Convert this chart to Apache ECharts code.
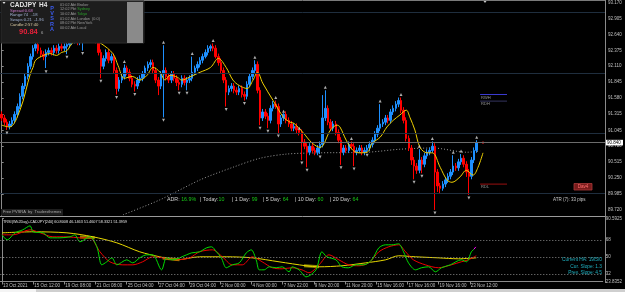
<!DOCTYPE html>
<html><head><meta charset="utf-8">
<script src="https://cdn.jsdelivr.net/npm/echarts@6/dist/echarts.min.js"></script>
<style>html,body{margin:0;padding:0;background:#000;}#c{width:625px;height:292px;}</style>
</head><body><div id="c"></div>
<script>
// ---------- DATA ----------
const xLabels = ['13 Oct 2021','15 Oct 12:00','19 Oct 08:00','21 Oct 08:00','25 Oct 04:00','27 Oct 04:00','29 Oct 04:00','2 Nov 00:00','4 Nov 00:00','7 Nov 22:00','9 Nov 20:00','11 Nov 20:00','15 Nov 16:00','17 Nov 16:00','19 Nov 16:00','23 Nov 12:00'];
const xLabelBars = [0,12,24,36,48,60,72,84,96,108,120,132,144,156,168,180];
const priceTicks = [93.170,92.905,92.640,92.375,92.110,91.845,91.580,91.315,91.045,90.780,90.515,90.250,89.985,89.720];
const oscTicks = [90.5925,68,50,32,23.8352];
const oscTickLabels = ['90.5925','68','50','32','23.8352'];

const firstOpen = 91.31;
const closes = [91.25,91.18,91.11,91.15,91.21,91.31,91.44,91.61,91.78,91.94,
92.11,92.27,92.41,92.47,92.37,92.31,92.27,92.34,92.37,92.34,
92.41,92.37,92.44,92.41,92.44,92.47,92.51,92.54,92.57,92.51,
92.54,92.61,92.67,92.71,92.74,92.67,92.54,92.34,92.11,92.24,
92.34,92.21,92.27,92.04,91.74,91.88,91.94,92.08,92.01,91.91,
91.81,91.78,91.88,91.91,91.98,92.08,92.14,92.17,92.04,91.88,
91.78,91.98,92.04,91.94,91.88,91.98,91.91,91.84,91.81,91.91,
91.84,91.88,91.91,92.01,92.08,92.14,92.21,92.27,92.34,92.41,
92.44,92.41,92.27,92.17,92.04,91.88,91.68,91.74,91.78,91.71,
91.68,91.74,91.64,91.61,91.81,91.94,92.04,92.14,91.71,91.25,
91.35,91.28,91.21,91.41,91.48,91.44,91.15,91.25,91.31,91.21,
91.15,91.08,91.11,91.05,91.01,90.85,90.78,90.68,90.78,90.71,
90.68,90.75,90.81,91.25,91.41,91.18,91.08,91.15,91.01,90.88,
90.68,90.75,90.71,90.81,90.78,90.68,90.71,90.75,90.68,90.71,
90.75,90.81,90.88,90.98,91.08,91.15,91.18,91.25,91.21,91.35,
91.41,91.48,91.54,91.38,91.21,90.91,90.75,90.55,90.45,90.38,
90.55,90.48,90.62,90.68,90.71,90.78,90.35,90.12,90.08,90.15,
90.22,90.28,90.35,90.45,90.42,90.52,90.58,90.48,90.35,90.28,
90.55,90.71,90.84];
const lows = [91.20,91.13,91.05,91.06,91.10,91.16,91.26,91.40,91.56,91.73,
91.89,92.06,92.22,92.36,92.32,92.26,92.21,92.08,92.29,92.29,
92.29,92.32,92.32,92.36,92.36,92.31,92.42,92.46,92.49,92.46,
92.46,92.37,92.56,92.62,92.66,92.62,92.49,92.29,91.91,92.06,
92.19,92.16,92.16,91.99,91.64,91.69,91.83,91.89,91.96,91.86,
91.76,91.69,91.73,91.83,91.86,91.93,92.03,92.09,91.99,91.83,
91.63,91.73,91.26,91.89,91.83,91.83,91.86,91.78,91.71,91.76,
91.79,91.71,91.83,91.86,91.96,92.03,92.09,92.16,92.24,92.29,
92.36,92.36,92.24,92.12,91.99,91.83,91.44,91.63,91.69,91.66,
91.63,91.63,91.59,91.54,91.56,91.76,91.89,91.99,91.66,91.13,
91.20,91.23,91.08,91.16,91.36,91.40,91.00,91.10,91.20,91.16,
91.10,91.03,91.03,91.00,90.96,90.55,90.73,90.43,90.63,90.67,
90.63,90.63,90.65,90.76,91.20,91.13,91.03,91.03,90.96,90.83,
90.47,90.63,90.67,90.67,90.73,90.45,90.63,90.67,90.63,90.63,
90.68,90.70,90.76,90.83,90.93,91.03,91.10,91.13,91.16,91.16,
91.30,91.36,91.43,91.33,91.16,90.86,90.70,90.47,90.23,90.32,
90.33,90.33,90.43,90.57,90.63,90.67,89.72,90.02,90.00,90.04,
90.10,90.17,90.23,90.30,90.37,90.37,90.47,90.43,90.27,89.97,
90.23,90.50,90.67];
const highs = [91.36,91.30,91.23,91.20,91.26,91.36,91.49,91.66,91.83,91.99,
92.16,92.32,92.46,92.62,92.52,92.42,92.36,92.39,92.42,92.42,
92.46,92.46,92.49,92.49,92.49,92.52,92.56,92.59,92.62,92.62,
92.59,92.66,92.72,92.76,92.80,92.79,92.72,92.59,92.39,92.29,
92.39,92.39,92.32,92.32,92.09,91.93,91.99,92.14,92.12,92.06,
91.96,91.86,91.93,91.96,92.03,92.12,92.19,92.22,92.22,92.09,
91.93,92.03,92.46,92.09,91.99,92.03,92.03,91.96,91.89,91.96,
91.96,91.93,91.96,92.27,92.12,92.19,92.26,92.32,92.39,92.46,
92.47,92.49,92.46,92.32,92.24,92.09,91.93,91.79,91.83,91.83,
91.76,91.79,91.79,91.69,91.86,91.99,92.09,92.21,92.19,91.76,
91.40,91.40,91.33,91.46,91.53,91.54,91.49,91.30,91.33,91.36,
91.26,91.20,91.16,91.16,91.05,91.06,90.90,90.83,90.83,90.83,
90.76,90.80,90.86,91.63,91.71,91.46,91.23,91.20,91.20,91.06,
90.93,90.80,90.80,90.86,90.86,90.83,90.76,90.80,90.80,90.76,
90.80,90.86,90.93,91.03,91.13,91.48,91.23,91.30,91.30,91.40,
91.46,91.53,91.59,91.59,91.43,91.26,90.96,90.80,90.60,90.50,
90.73,90.60,90.67,90.73,90.76,90.86,90.83,90.40,90.17,90.20,
90.27,90.33,90.40,90.63,90.50,90.57,90.65,90.63,90.53,90.40,
90.60,90.76,90.88];

// yellow moving average (bar index, price)
const maPoints = [[0,91.13],[3,91.10],[7,91.38],[11,91.99],[12,92.09],[13,92.21],[16,92.29],[18.5,92.32],[21,92.29],[23,92.34],[25,92.37],[27,92.49],[30,92.54],[34,92.57],[38,92.49],[42.6,92.32],[44.6,92.12],[47,91.91],[50,91.94],[53,91.88],[55.7,91.96],[58,92.09],[60.7,92.01],[62.6,91.88],[64.5,91.96],[67.2,91.93],[69,91.88],[72,91.93],[76,92.01],[80,92.09],[83,92.24],[86,92.09],[88.6,91.88],[91,91.79],[94,91.74],[96.3,91.88],[98,92.01],[100,91.83],[104,91.54],[108,91.26],[110.5,91.18],[112,91.16],[115.4,91.01],[119,90.83],[122,90.76],[126,91.05],[128.5,91.13],[129.6,91.10],[132,90.88],[134.6,90.71],[137,90.67],[140,90.68],[142,90.83],[145,90.93],[147.6,91.10],[150,91.21],[152.6,91.30],[155,91.38],[156.4,91.26],[158.3,91.05],[160.3,90.76],[163,90.67],[165,90.67],[168,90.43],[170.6,90.22],[172.5,90.18],[175.6,90.27],[178,90.38],[180.6,90.30],[182.5,90.43],[184.4,90.67]];
// long moving average (grey dotted)
const longMaPoints = [[46.5,89.64],[60.7,89.89],[76,90.22],[88.6,90.43],[99,90.58],[109.3,90.65],[122,90.67],[140,90.68],[152.6,90.73],[165.2,90.75],[178.3,90.68],[183.3,90.70]];
// fractal markers
const fractalUp = [[47,92.19],[62,92.51],[73,92.32],[81,92.54],[97,92.26],[105,91.59],[108,91.36],[114,91.08],[124,91.76],[134,90.91],[145,91.53],[153,91.64],[160,90.78],[165,90.91],[173,90.68],[176,90.70],[182,90.93]];
const fractalDown = [[2,91.00],[17,92.02],[25,92.26],[31,92.32],[38,91.86],[44,91.59],[51,91.64],[62,91.21],[68,91.66],[71,91.66],[86,91.39],[93,91.49],[99,91.08],[102,91.03],[106,90.95],[115,90.50],[117,90.38],[122,90.60],[130,90.42],[135,90.40],[140,90.63],[158,90.18],[161,90.28],[166,89.67],[179,89.92]];
const roundLevels = [93, 92, 91, 90];
const currentPrice = 90.84;
const rwh = 91.64, rdh = 91.53, rdl = 90.15;
const levelSpan = [183.3, 193.6];

// oscillator panel (TRSI)
const oscGreen = [[0,73.3],[2,68.0],[5,75.4],[8,78.6],[10.8,82.8],[12,76.5],[15.8,75.4],[18.5,70.1],[22.3,70.1],[26.2,71.2],[28,73.3],[30,65.9],[33.8,71.2],[36.5,60.6],[38.4,41.5],[40.3,44.7],[42.3,48.9],[44.2,41.5],[48,46.8],[50.3,43.6],[53,48.9],[55.7,52.1],[58,52.1],[61.4,36.2],[63.3,48.9],[65.6,46.8],[71,52.1],[73,54.2],[76,55.3],[78.7,59.5],[80.6,60.6],[82.5,55.3],[84.4,48.9],[86.3,38.4],[88.6,41.5],[91.3,43.6],[94,54.2],[95.9,57.4],[97.8,46.8],[99,36.2],[100.9,36.2],[102.8,39.4],[105.5,38.4],[107.8,39.4],[110.5,34.1],[111.6,39.4],[114.3,36.2],[117,28.8],[120.8,36.2],[123.1,55.3],[125,50],[128.5,46.8],[130.8,39.4],[133.4,38.4],[136.1,41.5],[139.2,41.5],[142.3,46.8],[145,59.5],[147.6,62.7],[150,62.7],[152.6,63.8],[154.5,55.3],[156.4,43.6],[159.1,36.2],[161.4,38.4],[164.1,39.4],[166.8,34.1],[169.1,38.4],[172.5,41.5],[176.7,46.8],[178.7,44.7],[180.6,55.3],[181.6,58.0]];
const oscMagenta = [[181.6,58.0],[182.3,60.5]];
const oscRed = [[0,73.3],[4.3,73.3],[10.8,78.6],[14.7,75.4],[19.6,71.2],[25,71.2],[30,70.1],[33.8,70.1],[37.7,55.3],[41.5,44.7],[46.5,41.5],[50.3,41.5],[54.1,44.7],[58,50],[61.8,48.9],[67.2,46.8],[72.2,48.9],[76,55.3],[81,57.4],[84.8,50],[88.6,41.5],[92.5,41.5],[96.3,50],[100.1,44.7],[104,38.4],[107.8,37.3],[111.6,38.4],[115.4,36.2],[118.1,33.1],[122,41.5],[125.8,52.1],[129.6,46.8],[133.4,41.5],[137.3,40.5],[141.1,43.6],[145,55.3],[148.8,60.6],[152.6,62.7],[155.3,55.3],[158.3,46.8],[162.9,41.5],[167.9,38.4],[172.9,41.5],[176.7,44.7],[179.4,46.8],[182.5,51.1]];
const oscYellow = [[0,75.4],[12,76.5],[25,75.4],[35,71.2],[44.2,64.8],[53,55.3],[60.7,50],[67.2,46.8],[76,50],[86.3,50],[96.3,48.9],[106.6,44.7],[117,40.5],[122,39.4],[130.8,40.5],[140,43.6],[147.6,46.8],[152.6,51.1],[159.1,50],[167.9,48.9],[175.6,47.9],[182.5,48.9]];
const oscOlive = [[30,71.0],[35.7,70.2],null,[61.8,48.6],[68.3,47.0],null,[116.2,40.6],[122,39.4]];
const oscLevels = [68, 50, 32];

// ---------- CHART ----------
const FONT = 'Liberation Sans, Arial, sans-serif';
const xMin = -0.65, xMax = 231.15;
const chart = echarts.init(document.getElementById('c'), null, {renderer: 'canvas'});
const candleData = closes.map((c, i) => [i, i === 0 ? firstOpen : closes[i - 1], c, lows[i], highs[i]]);
const greyTxt = '#c0c0c0';

const option = {
  backgroundColor: '#000000',
  animation: false,
  grid: [
    {left: 0, right: 20, top: 0, height: 216},
    {left: 0, right: 20, top: 218.5, height: 63}
  ],
  xAxis: [
    {type: 'value', gridIndex: 0, min: xMin, max: xMax, show: false},
    {type: 'value', gridIndex: 1, min: xMin, max: xMax,
      axisLine: {show: true, lineStyle: {color: '#8a8a8a', width: 1}},
      axisTick: {show: true, length: 3, lineStyle: {color: '#8a8a8a'}, customValues: xLabelBars},
      axisLabel: {customValues: xLabelBars, formatter: v => xLabels[xLabelBars.indexOf(v)] || '',
        color: greyTxt, fontSize: 4.5, fontFamily: FONT, align: 'left', margin: 2, padding: [0, 0, 0, 1]},
      splitLine: {show: false}}
  ],
  yAxis: [
    {type: 'value', gridIndex: 0, position: 'right', min: 89.6196, max: 93.2032,
      axisLine: {show: true, lineStyle: {color: '#8a8a8a'}},
      axisTick: {show: true, length: 2, lineStyle: {color: '#8a8a8a'}, customValues: priceTicks},
      axisLabel: {customValues: priceTicks, formatter: v => v.toFixed(3), color: greyTxt, fontSize: 4.5, fontFamily: FONT, margin: 3},
      splitLine: {show: false}},
    {type: 'value', gridIndex: 1, position: 'right', min: 23.8352, max: 90.5925,
      axisLine: {show: true, lineStyle: {color: '#8a8a8a'}},
      axisTick: {show: true, length: 2, lineStyle: {color: '#8a8a8a'}, customValues: oscTicks},
      axisLabel: {customValues: oscTicks, formatter: v => oscTickLabels[oscTicks.indexOf(v)] || '', color: greyTxt, fontSize: 4.5, fontFamily: FONT, margin: 3},
      splitLine: {show: false}}
  ],
  series: [
    {type: 'line', xAxisIndex: 0, yAxisIndex: 0, data: [], z: 1, silent: true,
      markLine: {silent: true, symbol: 'none', label: {show: false}, animation: false,
        data: roundLevels.map(v => ({yAxis: v, lineStyle: {color: '#1f2e3e', width: 1, type: 'solid'}}))
          .concat([{yAxis: currentPrice, lineStyle: {color: '#6c6c6c', width: 1, type: 'solid'}}])}},
    {type: 'line', xAxisIndex: 0, yAxisIndex: 0, data: longMaPoints, smooth: 0.3, showSymbol: false, z: 2,
      lineStyle: {color: '#9a9a9a', width: 1, type: [1, 2]}},
    {type: 'candlestick', xAxisIndex: 0, yAxisIndex: 0, data: candleData, barWidth: 2, z: 3,
      itemStyle: {color: '#1e90ff', color0: '#ff0000', borderColor: '#1e90ff', borderColor0: '#ff0000', borderWidth: 1}},
    {type: 'line', xAxisIndex: 0, yAxisIndex: 0, data: maPoints, smooth: 0.35, showSymbol: false, z: 4,
      lineStyle: {color: '#f0d000', width: 1}},
    {type: 'scatter', xAxisIndex: 0, yAxisIndex: 0, data: fractalUp, symbol: 'triangle', symbolSize: [3, 3], z: 5,
      itemStyle: {color: '#d8d8d8'}},
    {type: 'scatter', xAxisIndex: 0, yAxisIndex: 0, data: fractalDown, symbol: 'triangle', symbolSize: [3, 3], symbolRotate: 180, z: 5,
      itemStyle: {color: '#d8d8d8'}},
    {type: 'line', xAxisIndex: 0, yAxisIndex: 0, data: levelSpan.map(x => [x, rwh]), showSymbol: false, lineStyle: {color: '#3a3ad0', width: 1}},
    {type: 'line', xAxisIndex: 0, yAxisIndex: 0, data: levelSpan.map(x => [x, rdh]), showSymbol: false, lineStyle: {color: '#34345e', width: 1}},
    {type: 'line', xAxisIndex: 0, yAxisIndex: 0, data: levelSpan.map(x => [x, rdl]), showSymbol: false, lineStyle: {color: '#9a1010', width: 1}},
    {type: 'scatter', xAxisIndex: 0, yAxisIndex: 0, data: [[184.4, currentPrice]], symbol: 'rect', symbolSize: 2, itemStyle: {color: '#ff2020'}},
    // oscillator
    {type: 'line', xAxisIndex: 1, yAxisIndex: 1, data: [], silent: true,
      markLine: {silent: true, symbol: 'none', label: {show: false}, animation: false,
        data: oscLevels.map(v => ({yAxis: v, lineStyle: {color: '#8a8a8a', width: 1, type: [1, 2]}}))}},
    {type: 'line', xAxisIndex: 1, yAxisIndex: 1, data: oscOlive, showSymbol: false, connectNulls: false,
      lineStyle: {color: '#8a8400', width: 3}},
    {type: 'line', xAxisIndex: 1, yAxisIndex: 1, data: oscYellow, smooth: 0.3, showSymbol: false,
      lineStyle: {color: '#e8d800', width: 1}},
    {type: 'line', xAxisIndex: 1, yAxisIndex: 1, data: oscRed, smooth: 0.3, showSymbol: false,
      lineStyle: {color: '#ee0000', width: 1}},
    {type: 'line', xAxisIndex: 1, yAxisIndex: 1, data: oscGreen, smooth: 0.3, showSymbol: false,
      lineStyle: {color: '#00dd00', width: 1}},
    {type: 'line', xAxisIndex: 1, yAxisIndex: 1, data: oscMagenta, showSymbol: false,
      lineStyle: {color: '#ff00ff', width: 1}}
  ]
};
chart.setOption(option);

// ---------- overlays (panels and labels) ----------
function txt(x, y, text, size, fill, opts) {
  opts = opts || {};
  return {type: 'text', x: x, y: y, z: 100, silent: true,
    style: {text: text, fill: fill, font: (opts.bold ? 'bold ' : '') + size + 'px ' + FONT,
      textAlign: opts.align || 'left', textVerticalAlign: 'middle'}};
}
const pxCur = chart.convertToPixel({gridIndex: 0}, [0, currentPrice])[1];
const pxRWH = chart.convertToPixel({gridIndex: 0}, [levelSpan[0], rwh]);
const pxRDH = chart.convertToPixel({gridIndex: 0}, [levelSpan[0], rdh]);
const pxRDL = chart.convertToPixel({gridIndex: 0}, [levelSpan[0], rdl]);

const g = [];
// frame lines
g.push({type: 'line', z: 90, shape: {x1: 0, y1: 0.5, x2: 605, y2: 0.5}, style: {stroke: '#7a7a7a', lineWidth: 1}});
g.push({type: 'line', z: 90, shape: {x1: 0, y1: 216.5, x2: 605, y2: 216.5}, style: {stroke: '#9a9a9a', lineWidth: 1}});
g.push({type: 'line', z: 90, shape: {x1: 605.5, y1: 0, x2: 605.5, y2: 283}, style: {stroke: '#8a8a8a', lineWidth: 1}});
// top shift marker
g.push({type: 'polygon', z: 90, shape: {points: [[483.5, 1], [486.5, 1], [485, 3]]}, style: {fill: '#c8c8c8'}});
// info panel
g.push({type: 'rect', z: 95, shape: {x: 1, y: 1, width: 143, height: 42}, style: {fill: '#1d1d1d', stroke: '#2c2c2c', lineWidth: 1}});
g.push({type: 'rect', z: 96, shape: {x: 127, y: 2, width: 16, height: 41}, style: {fill: '#8a8a8a'}});
g.push({type: 'polygon', z: 97, shape: {points: [[2.5, 2], [5.5, 2], [4, 4]]}, style: {fill: '#e0e0e0'}});
g.push(txt(10, 5.2, 'CADJPY', 6.5, '#e6e6e6', {bold: true}));
g.push(txt(39, 5.2, 'H4', 6.5, '#e6e6e6', {bold: true}));
g.push(txt(10, 10.7, 'Spread:0.68', 4.2, '#c878c8'));
g.push(txt(10, 15.3, 'Range:74  ..18', 4.2, '#9fb0d0'));
g.push(txt(10, 20, 'Swaps:0.21  -1.96', 4.2, '#9fb0d0'));
g.push(txt(10, 24.7, 'Candle:2:57:40', 4.2, '#d8c8a0'));
g.push(txt(19, 32.2, '90.84', 7.5, '#e8203a', {bold: true}));
g.push(txt(41, 32.8, '6', 4.2, '#b0b0b0'));
['P', 'V', 'S', 'R', 'A'].forEach((ch, k) => g.push(txt(52, 8.5 + k * 5.2, ch, 5.5, '#3b5cf0', {bold: true, align: 'center'})));
const sessions = [['01:02 Abt ', 'Broker', '#9a9a9a'], ['12:02 Pbt ', 'Sydney', '#2aa02a'], ['10:02 Abt ', 'Tokyo', '#2aa02a'], ['01:02 Abt ', 'London  (0.0)', '#9a9a9a'], ['08:02 Pbt ', 'NewYork', '#9a9a9a'], ['00:02 Abt ', 'Local', '#9a9a9a']];
sessions.forEach((s, k) => {
  const y = 4.8 + k * 4.6;
  g.push({type: 'text', x: 60, y: y, z: 100, silent: true,
    style: {text: '{a|' + s[0] + '}{b|' + s[1] + '}', textVerticalAlign: 'middle', font: '3.8px ' + FONT,
      rich: {a: {fill: '#9a9a9a', font: '3.8px ' + FONT}, b: {fill: s[2], font: '3.8px ' + FONT}}}});
});
// RWH / RDH / RDL labels
g.push(txt(pxRWH[0] + 1, pxRWH[1] + 3, 'RWH', 4, '#9a9a9a'));
g.push(txt(pxRDH[0] + 1, pxRDH[1] + 3, 'RDH', 4, '#9a9a9a'));
g.push(txt(pxRDL[0] + 1, pxRDL[1] + 3, 'RDL', 4, '#9a9a9a'));
// red button
g.push({type: 'rect', z: 95, shape: {x: 574, y: 183.5, width: 18, height: 6.5}, style: {fill: '#7a1c1c', stroke: '#a83a3a', lineWidth: 0.8}});
g.push(txt(583, 186.9, 'Dav4', 4.6, '#ff7070', {align: 'center'}));
// ADR line
const adr = [[167, 'ADR: ', '16.9%'], [200, '| Today:', '10'], [232, '| 1 Day: ', '99'], [263, '| 5 Day: ', '64'], [295, '| 10 Day: ', '60'], [330, '| 20 Day: ', '64']];
adr.forEach(a => g.push({type: 'text', x: a[0], y: 199.5, z: 100, silent: true,
  style: {text: '{l|' + a[1] + '}{v|' + a[2] + '}', textVerticalAlign: 'middle', font: '5.3px ' + FONT,
    rich: {l: {fill: '#d0d0d0', font: '5.3px ' + FONT}, v: {fill: '#18c818', font: '5.3px ' + FONT}}}}));
g.push(txt(553, 199.5, 'ATR (7): 33 pips', 4.5, '#c8c8c8'));
// Free PVSRA box
g.push({type: 'rect', z: 95, shape: {x: 1, y: 209, width: 62, height: 6.5}, style: {fill: '#1e1e1e'}});
g.push(txt(3, 212.3, 'Free PVSRA  by  Tradersthemes', 4, '#a8a8a8'));
// oscillator title and notes
g.push(txt(3, 221.5, 'TRSI(Wk2Day)-CADJPY[240] 60.8008 46.1463 51.4607 58.3321 51.3959', 3.8, '#e0e0e0'));
g.push(txt(602, 260, 'Current HA: 19/5/0', 4.8, '#1fb3c3', {align: 'right'}));
g.push(txt(602, 266.5, 'Cur. Slope: 1.3', 4.8, '#1fb3c3', {align: 'right'}));
g.push(txt(602, 273, 'Prev. Slope: 4.5', 4.8, '#1fb3c3', {align: 'right'}));
// current price label
g.push({type: 'rect', z: 101, shape: {x: 606, y: pxCur - 2.8, width: 17, height: 5.6}, style: {fill: '#ffffff'}});
g.push({type: 'text', x: 607, y: pxCur, z: 102, silent: true, style: {text: currentPrice.toFixed(3), fill: '#000000', font: '4.5px ' + FONT, textVerticalAlign: 'middle'}});
// bottom tab strip
g.push({type: 'rect', z: 90, shape: {x: 0, y: 289, width: 625, height: 3}, style: {fill: '#cfcfcf'}});
g.push({type: 'rect', z: 91, shape: {x: 0, y: 289, width: 36, height: 3}, style: {fill: '#f4f4f4'}});
chart.setOption({graphic: {elements: g}});
</script></body></html>
